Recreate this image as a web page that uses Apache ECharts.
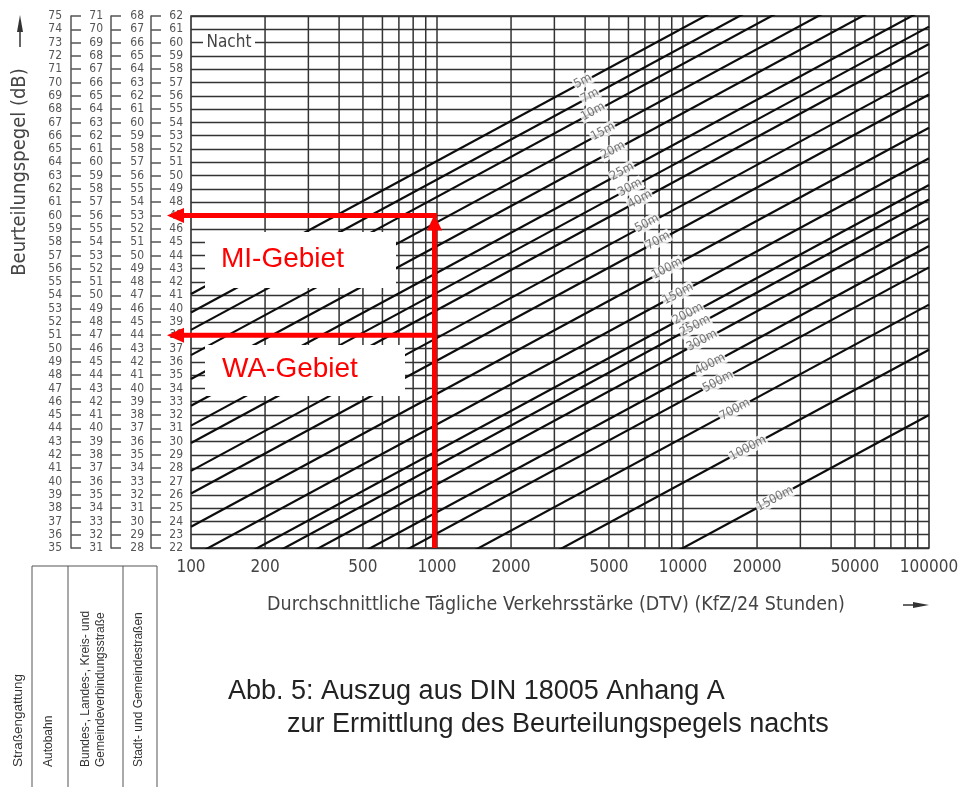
<!DOCTYPE html>
<html><head><meta charset="utf-8">
<script src="https://cdn.jsdelivr.net/npm/echarts@6/dist/echarts.min.js"></script>
<style>html,body{margin:0;padding:0;background:#fff}#c{width:963px;height:787px}</style>
</head><body><div id="c"></div>
<script>
// ---- data ----
const lineLabels = ['5m','7m','10m','15m','20m','25m','30m','40m','50m','70m','100m','150m','200m','250m','300m','400m','500m','700m','1000m','1500m'];
const levelAtDTV100 = [41.1, 39.7, 38.4, 36.5, 34.7, 32.7, 31.2, 29.9, 27.8, 26.1, 23.6, 21.3, 19.3, 18.2, 16.8, 14.7, 13.1, 10.3, 6.9, 2.0];
const levelAtDTV100000 = [71.1, 69.7, 68.4, 66.5, 64.7, 62.7, 61.2, 59.9, 57.8, 56.1, 53.6, 51.3, 49.3, 48.2, 46.8, 44.7, 43.1, 40.3, 36.9, 32.0];
const lineLabelDTV = [3917, 4188, 4307, 4728, 5191, 5650, 6093, 6687, 7145, 7913, 8610, 9550, 10480, 11190, 11950, 12880, 13880, 16260, 18370, 23650];
const lineLabelLevel = [57.1, 56.0, 54.8, 53.3, 51.9, 50.3, 49.1, 48.2, 46.4, 45.1, 43.0, 41.1, 39.6, 38.7, 37.6, 35.8, 34.5, 32.4, 29.5, 25.7];
const xTickLabels = [100, 200, 500, 1000, 2000, 5000, 10000, 20000, 50000, 100000];
const xGridDTV = [200,300,400,500,600,700,800,900,1000,2000,3000,4000,5000,6000,7000,8000,9000,10000,20000,30000,40000,50000,60000,70000,80000,90000];
const scaleMain = [22, 62];   // column next to the plot (Stadt- und Gemeindestraßen)
const scaleCol3 = [28, 68];   // Bundes-, Landes-, Kreis- und Gemeindeverbindungsstraße
const scaleCol2 = [31, 71];
const scaleCol1 = [35, 75];   // Autobahn
const annotationDTV = 1000;
const annotationLevels = [47, 38];
const annotationNames = ['MI-Gebiet', 'WA-Gebiet'];

const FONT = '"DejaVu Sans Condensed","Liberation Sans Narrow",sans-serif';
const chart = echarts.init(document.getElementById('c'), null, {renderer: 'canvas'});

function sideAxis(range, offset, margin) {
  return {
    type: 'value', position: 'left', min: range[0], max: range[1], interval: 1, offset: offset,
    axisLine: {show: true, onZero: false, lineStyle: {color: '#555', width: 1.5}},
    axisTick: {show: true, inside: true, length: 10, lineStyle: {color: '#555', width: 1.5}},
    axisLabel: {margin: margin, color: '#555', fontFamily: FONT, fontSize: 12},
    splitLine: {show: false}
  };
}

const series = [];
xGridDTV.forEach(v => series.push({
  type: 'line', silent: true, showSymbol: false, symbol: 'none', z: 1,
  data: [[v, scaleMain[0]], [v, scaleMain[1]]],
  lineStyle: {color: '#333', width: 1.5}
}));
lineLabels.forEach((name, i) => series.push({
  type: 'line', name: name, silent: true, showSymbol: false, symbol: 'none', z: 3, clip: true,
  data: [[100, levelAtDTV100[i]], [100000, levelAtDTV100000[i]]],
  lineStyle: {color: '#0d0d0d', width: 2.2}
}));
series.push({
  type: 'scatter', silent: true, symbolSize: 0, z: 6,
  data: lineLabels.map((t, i) => ({name: t, value: [lineLabelDTV[i], lineLabelLevel[i]]})),
  label: {show: true, position: 'inside', formatter: p => p.name, rotate: 28.4,
    color: '#555', fontFamily: FONT, fontSize: 12.5, backgroundColor: '#fff', padding: [0, 1]}
});

chart.setOption({
  animation: false,
  grid: {left: 191, top: 16, width: 738, height: 532, show: true, borderColor: '#222', borderWidth: 1.5, backgroundColor: '#fff'},
  xAxis: {
    type: 'log', logBase: 10, min: 100, max: 100000,
    axisLine: {show: false}, axisTick: {show: false}, splitLine: {show: false},
    axisLabel: {customValues: xTickLabels, margin: 11, color: '#444', fontFamily: FONT, fontSize: 17,
      formatter: v => String(Math.round(v))}
  },
  yAxis: [
    {type: 'value', position: 'left', min: scaleMain[0], max: scaleMain[1], interval: 1,
      axisLine: {show: false}, axisTick: {show: false},
      axisLabel: {margin: 8, color: '#555', fontFamily: FONT, fontSize: 12},
      splitLine: {show: true, lineStyle: {color: '#333', width: 1.3}}},
    sideAxis(scaleCol3, 40, 7),
    sideAxis(scaleCol2, 80, 8),
    sideAxis(scaleCol1, 120, 9)
  ],
  series: series
});

const px = v => chart.convertToPixel({xAxisIndex: 0, yAxisIndex: 0}, v);
const [xR0, yBottom] = px([annotationDTV, scaleMain[0]]);
const xR = xR0 - 2.5;
const red = '#ff0000';
const tipX = 167;
const els = [];
// red arrows
const yMI = px([annotationDTV, annotationLevels[0]])[1];
const yWA = px([annotationDTV, annotationLevels[1]])[1];
els.push({type: 'line', shape: {x1: xR, y1: yBottom, x2: xR, y2: yMI + 13}, style: {stroke: red, lineWidth: 5}});
els.push({type: 'polygon', shape: {points: [[xR, yMI - 1], [xR - 7.5, yMI + 15], [xR + 7.5, yMI + 15]]}, style: {fill: red}});
[yMI, yWA].forEach(y => {
  els.push({type: 'line', shape: {x1: xR + 2.5, y1: y, x2: tipX + 15, y2: y}, style: {stroke: red, lineWidth: 5}});
  els.push({type: 'polygon', shape: {points: [[tipX, y], [tipX + 17, y - 7.5], [tipX + 17, y + 7.5]]}, style: {fill: red}});
});
// labelled boxes
els.push({type: 'rect', shape: {x: 205, y: 232, width: 191, height: 56}, style: {fill: '#fff'}});
els.push({type: 'rect', shape: {x: 205, y: 345, width: 200, height: 51}, style: {fill: '#fff'}});
els.push({type: 'text', x: 221, y: 259, style: {text: annotationNames[0], fill: red, font: '28px "Liberation Sans",Arial,sans-serif', textAlign: 'left', textVerticalAlign: 'middle'}});
els.push({type: 'text', x: 222, y: 369, style: {text: annotationNames[1], fill: red, font: '28px "Liberation Sans",Arial,sans-serif', textAlign: 'left', textVerticalAlign: 'middle'}});
// Nacht
const yN = px([100, 60])[1];
els.push({type: 'rect', shape: {x: 203, y: yN - 8, width: 52, height: 16}, style: {fill: '#fff'}});
els.push({type: 'text', x: 229, y: yN, style: {text: 'Nacht', fill: '#444', font: '17px ' + FONT, textAlign: 'center', textVerticalAlign: 'middle'}});
// axis titles and arrows
els.push({type: 'text', x: 20, y: 172, rotation: Math.PI / 2, style: {text: 'Beurteilungspegel (dB)', fill: '#444', font: '20px ' + FONT, textAlign: 'center', textVerticalAlign: 'middle'}});
els.push({type: 'line', shape: {x1: 20, y1: 47, x2: 20, y2: 28}, style: {stroke: '#333', lineWidth: 1.5}});
els.push({type: 'polygon', shape: {points: [[20, 15], [17, 32], [23, 32]]}, style: {fill: '#333'}});
els.push({type: 'text', x: 556, y: 605, style: {text: 'Durchschnittliche Tägliche Verkehrsstärke (DTV) (KfZ/24 Stunden)', fill: '#444', font: '19.5px ' + FONT, textAlign: 'center', textVerticalAlign: 'middle'}});
els.push({type: 'line', shape: {x1: 903, y1: 605, x2: 915, y2: 605}, style: {stroke: '#333', lineWidth: 1.5}});
els.push({type: 'polygon', shape: {points: [[929, 605], [913, 602], [913, 608]]}, style: {fill: '#333'}});
// table of road types
els.push({type: 'line', shape: {x1: 32, y1: 566, x2: 157, y2: 566}, style: {stroke: '#555', lineWidth: 1}});
[32, 68, 123, 157].forEach(x => els.push({type: 'line', shape: {x1: x, y1: 566, x2: x, y2: 787}, style: {stroke: '#555', lineWidth: 1}}));
const rot = (t, x, fs) => ({type: 'text', x: x, y: 767, rotation: Math.PI / 2, style: {text: t, fill: '#333', font: fs + 'px "Liberation Sans",Arial,sans-serif', textAlign: 'left', textVerticalAlign: 'middle'}});
els.push(rot('Straßengattung', 18.5, 13.5));
els.push(rot('Autobahn', 49, 12));
els.push(rot('Bundes-, Landes-, Kreis- und', 86, 12));
els.push(rot('Gemeindeverbindungsstraße', 101, 12));
els.push(rot('Stadt- und Gemeindestraßen', 139, 12));
// caption
els.push({type: 'text', x: 228, y: 692, style: {text: 'Abb. 5: Auszug aus DIN 18005 Anhang A', fill: '#222', font: '27px "Liberation Sans",Arial,sans-serif', textAlign: 'left', textVerticalAlign: 'middle'}});
els.push({type: 'text', x: 287, y: 725, style: {text: 'zur Ermittlung des Beurteilungspegels nachts', fill: '#222', font: '27px "Liberation Sans",Arial,sans-serif', textAlign: 'left', textVerticalAlign: 'middle'}});

chart.setOption({graphic: {elements: els.map(e => Object.assign({z: 100, silent: true}, e))}});
</script>
</body></html>
